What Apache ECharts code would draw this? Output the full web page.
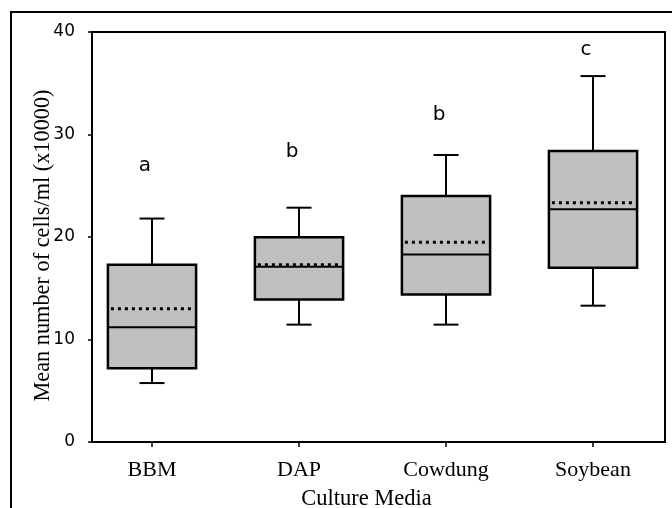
<!DOCTYPE html>
<html>
<head>
<meta charset="utf-8">
<script src="https://cdn.jsdelivr.net/npm/echarts@6/dist/echarts.min.js"></script>
<style>html,body{margin:0;padding:0;background:#fff;}#main{width:672px;height:508px;}</style>
</head>
<body>
<div id="main"></div>
<script>
var categories = ['BBM', 'DAP', 'Cowdung', 'Soybean'];
var whiskerLow = [5.75, 11.45, 11.45, 13.3];
var q1 = [7.2, 13.9, 14.4, 17.0];
var median = [11.2, 17.1, 18.3, 22.7];
var q3 = [17.3, 19.97, 24.0, 28.4];
var whiskerHigh = [21.8, 22.86, 28.0, 35.7];
var meanValues = [13.0, 17.3, 19.5, 23.35];
var sigLetters = ['a', 'b', 'b', 'c'];
var letterValues = [26.9, 28.3, 31.9, 38.3];
var yTicks = [0, 10, 20, 30, 40];

var boxData = categories.map(function (c, i) {
  return [i, whiskerLow[i], q1[i], median[i], q3[i], whiskerHigh[i], meanValues[i]];
});
var letterData = categories.map(function (c, i) {
  return [i, letterValues[i], sigLetters[i]];
});

var chart = echarts.init(document.getElementById('main'), null, {renderer: 'canvas'});

function renderBox(params, api) {
  var idx = api.value(0);
  var band = api.size([1, 0])[0];
  var half = band * 0.3;
  var cap = band * 0.085;
  var pLow = api.coord([idx, api.value(1)]);
  var pQ1 = api.coord([idx, api.value(2)]);
  var pMed = api.coord([idx, api.value(3)]);
  var pQ3 = api.coord([idx, api.value(4)]);
  var pHigh = api.coord([idx, api.value(5)]);
  var pMean = api.coord([idx, api.value(6)]);
  var x = pQ1[0];
  var stroke = {stroke: '#000', lineWidth: 2};
  return {
    type: 'group',
    children: [
      {type: 'line', shape: {x1: x, y1: pQ3[1], x2: x, y2: pHigh[1]}, style: stroke},
      {type: 'line', shape: {x1: x - cap, y1: pHigh[1], x2: x + cap, y2: pHigh[1]}, style: stroke},
      {type: 'line', shape: {x1: x, y1: pQ1[1], x2: x, y2: pLow[1]}, style: stroke},
      {type: 'line', shape: {x1: x - cap, y1: pLow[1], x2: x + cap, y2: pLow[1]}, style: stroke},
      {type: 'rect', shape: {x: x - half, y: pQ3[1], width: half * 2, height: pQ1[1] - pQ3[1]},
        style: {fill: '#c0c0c0', stroke: '#000', lineWidth: 2.5}},
      {type: 'line', shape: {x1: x - half, y1: pMed[1], x2: x + half, y2: pMed[1]}, style: stroke},
      {type: 'line', shape: {x1: x - half + 3, y1: pMean[1], x2: x + half - 4, y2: pMean[1]},
        style: {stroke: '#000', lineWidth: 3, lineDash: [3, 4]}}
    ]
  };
}

function renderLetter(params, api) {
  var p = api.coord([api.value(0), api.value(1)]);
  return {
    type: 'text',
    x: p[0] - 7, y: p[1],
    style: {text: letterData[params.dataIndex][2], fill: '#000', align: 'center', verticalAlign: 'middle',
      font: '20px "DejaVu Sans"'}
  };
}

var option = {
  animation: false,
  graphic: [{
    type: 'rect', shape: {x: 11, y: 12, width: 720, height: 600},
    style: {fill: 'none', stroke: '#000', lineWidth: 2}, silent: true, z: -1
  }],
  grid: [
    {left: 92, right: 7, top: 32, bottom: 66, show: true, borderColor: '#000', borderWidth: 2,
      backgroundColor: 'transparent', outerBoundsMode: 'none', containLabel: false},
    {left: 78.5, width: 588, top: 32, bottom: 66, outerBoundsMode: 'none', containLabel: false}
  ],
  xAxis: [
    {type: 'value', gridIndex: 0, show: false, min: 0, max: 1},
    {type: 'category', gridIndex: 1, data: categories,
      axisLine: {show: false},
      axisTick: {show: true, alignWithLabel: true, length: 5, lineStyle: {color: '#000', width: 1.5}},
      axisLabel: {margin: 17, color: '#000', fontFamily: 'Liberation Serif', fontSize: 22},
      name: 'Culture Media', nameLocation: 'middle', nameGap: 46, nameMoveOverlap: false,
      nameTextStyle: {color: '#000', fontFamily: 'Liberation Serif', fontSize: 22.5, padding: [0, 12, 0, 0]}
    }
  ],
  yAxis: [
    {type: 'value', gridIndex: 0, min: 0, max: 40, interval: 10,
      splitLine: {show: false},
      axisLine: {show: true, lineStyle: {color: '#000', width: 2}},
      axisTick: {show: true, inside: false, length: 4, lineStyle: {color: '#000', width: 1.5}},
      axisLabel: {margin: 17, color: '#000', fontFamily: 'DejaVu Sans', fontSize: 17,
        customValues: yTicks},
      name: 'Mean number of cells/ml (x10000)', nameLocation: 'middle', nameGap: 38, nameRotate: 90,
      nameMoveOverlap: false,
      nameTextStyle: {color: '#000', fontFamily: 'Liberation Serif', fontSize: 22.3, padding: [0, 17, 0, 0]}
    },
    {type: 'value', gridIndex: 1, min: 0, max: 40, show: false}
  ],
  series: [
    {type: 'custom', xAxisIndex: 1, yAxisIndex: 1, renderItem: renderBox, data: boxData, z: 3},
    {type: 'custom', xAxisIndex: 1, yAxisIndex: 1, renderItem: renderLetter, data: letterData, z: 4}
  ]
};
chart.setOption(option);
</script>
</body>
</html>
